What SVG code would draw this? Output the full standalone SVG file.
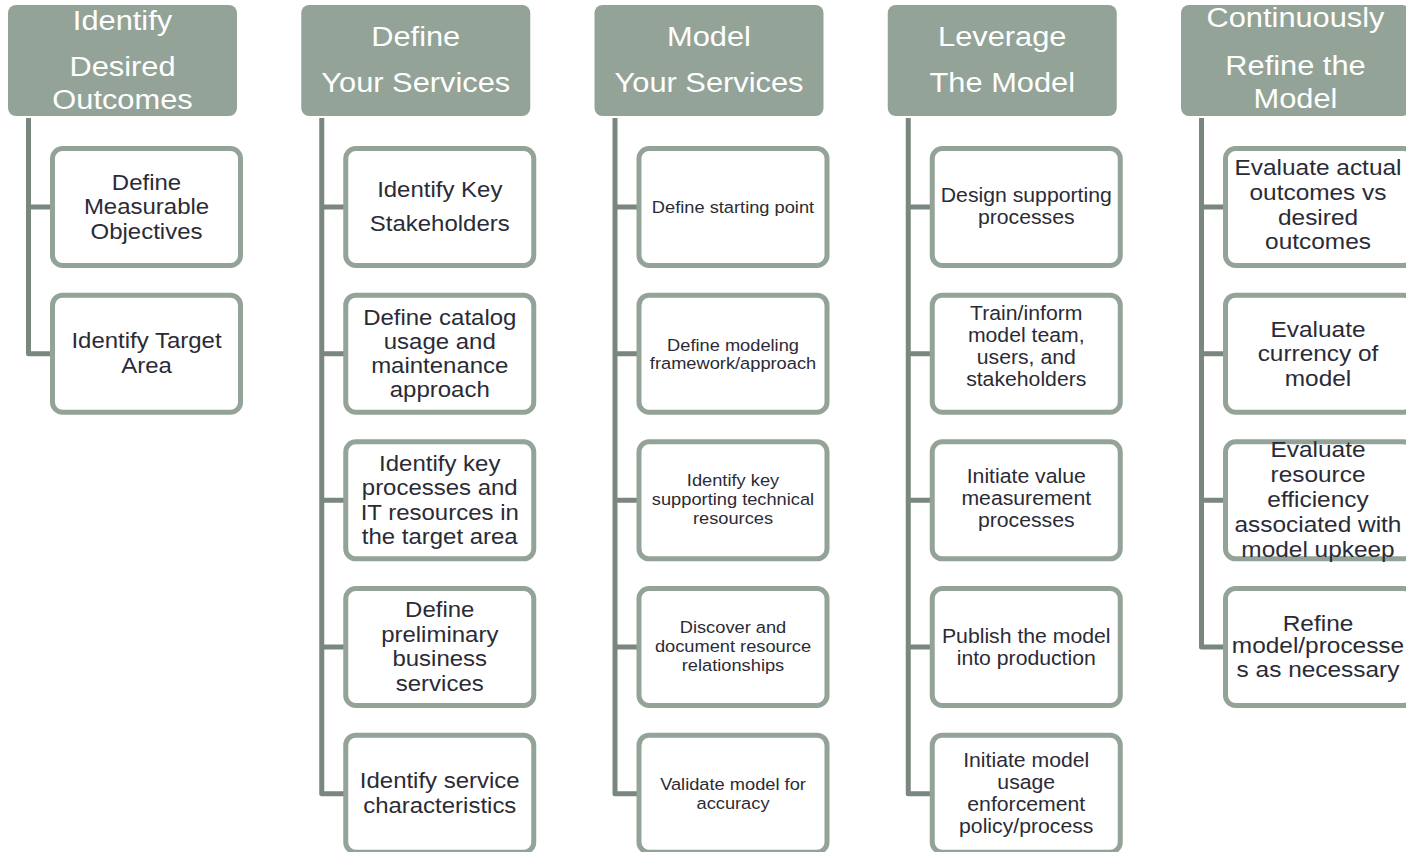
<svg xmlns="http://www.w3.org/2000/svg" width="1406" height="852" viewBox="0 0 1406 852">
<style>
.hd{fill:#94a397;}
.bx{fill:#ffffff;stroke:#94a397;stroke-width:5;}
.ln{fill:none;stroke:#7a877f;stroke-width:5;stroke-linejoin:round;}
text{font-family:'Liberation Sans',Arial,sans-serif;text-anchor:middle;}
.ht{fill:#ffffff;font-size:28px;}
.t{fill:#2b2b36;font-size:21.8px;}
.s{fill:#2b2b36;font-size:16.6px;}
.m{fill:#2b2b36;font-size:19.3px;}
.l{fill:#2b2b36;font-size:22.2px;}
</style>
<rect width="1406" height="852" fill="#ffffff"/>
<g id="connectors">
<path class="ln" d="M28.5 118V353.7H52.5M28.5 207H52.5"/>
<path class="ln" d="M321.75 118V793.7H345.75M321.75 207H345.75M321.75 353.7H345.75M321.75 500.3H345.75M321.75 647H345.75"/>
<path class="ln" d="M615 118V793.7H639M615 207H639M615 353.7H639M615 500.3H639M615 647H639"/>
<path class="ln" d="M908.25 118V793.7H932.25M908.25 207H932.25M908.25 353.7H932.25M908.25 500.3H932.25M908.25 647H932.25"/>
<path class="ln" d="M1201.5 118V647H1225.5M1201.5 207H1225.5M1201.5 353.7H1225.5M1201.5 500.3H1225.5"/>
</g>
<g id="h1"><rect class="hd" x="8" y="5" width="229" height="111" rx="8"/>
<text class="ht" transform="translate(122.5,0) scale(1.1,1)"><tspan x="0" y="30">Identify</tspan><tspan x="0" y="76">Desired</tspan><tspan x="0" y="109">Outcomes</tspan></text></g>
<g id="h2"><rect class="hd" x="301.25" y="5" width="229" height="111" rx="8"/>
<text class="ht" transform="translate(415.75,0) scale(1.1,1)"><tspan x="0" y="46">Define</tspan><tspan x="0" y="92">Your Services</tspan></text></g>
<g id="h3"><rect class="hd" x="594.5" y="5" width="229" height="111" rx="8"/>
<text class="ht" transform="translate(709,0) scale(1.1,1)"><tspan x="0" y="46">Model</tspan><tspan x="0" y="92">Your Services</tspan></text></g>
<g id="h4"><rect class="hd" x="887.75" y="5" width="229" height="111" rx="8"/>
<text class="ht" transform="translate(1002.25,0) scale(1.1,1)"><tspan x="0" y="46">Leverage</tspan><tspan x="0" y="92">The Model</tspan></text></g>
<g id="h5"><rect class="hd" x="1181" y="5" width="229" height="111" rx="8"/>
<text class="ht" transform="translate(1295.5,0) scale(1.1,1)"><tspan x="0" y="27">Continuously</tspan><tspan x="0" y="75">Refine the</tspan><tspan x="0" y="108">Model</tspan></text></g>

<g id="c1b1"><rect class="bx" x="52.5" y="148.5" width="188" height="117" rx="10"/>
<text class="t" transform="translate(146.5,0) scale(1.1,1)"><tspan x="0" y="190">Define</tspan><tspan x="0" y="214.5">Measurable</tspan><tspan x="0" y="239">Objectives</tspan></text></g>
<g id="c1b2"><rect class="bx" x="52.5" y="295.2" width="188" height="117" rx="10"/>
<text class="t" transform="translate(146.5,0) scale(1.1,1)"><tspan x="0" y="348">Identify Target</tspan><tspan x="0" y="373">Area</tspan></text></g>

<g id="c2b1"><rect class="bx" x="345.75" y="148.5" width="188" height="117" rx="10"/>
<text class="t" transform="translate(439.75,0) scale(1.1,1)"><tspan x="0" y="197">Identify Key</tspan><tspan x="0" y="231">Stakeholders</tspan></text></g>
<g id="c2b2"><rect class="bx" x="345.75" y="295.2" width="188" height="117" rx="10"/>
<text class="t" transform="translate(439.75,0) scale(1.1,1)"><tspan x="0" y="325">Define catalog</tspan><tspan x="0" y="349">usage and</tspan><tspan x="0" y="373">maintenance</tspan><tspan x="0" y="397">approach</tspan></text></g>
<g id="c2b3"><rect class="bx" x="345.75" y="441.8" width="188" height="117" rx="10"/>
<text class="t" transform="translate(439.75,0) scale(1.1,1)"><tspan x="0" y="471.5">Identify key</tspan><tspan x="0" y="495.5">processes and</tspan><tspan x="0" y="520">IT resources in</tspan><tspan x="0" y="544">the target area</tspan></text></g>
<g id="c2b4"><rect class="bx" x="345.75" y="588.5" width="188" height="117" rx="10"/>
<text class="t" transform="translate(439.75,0) scale(1.1,1)"><tspan x="0" y="617.5">Define</tspan><tspan x="0" y="642">preliminary</tspan><tspan x="0" y="666.5">business</tspan><tspan x="0" y="691">services</tspan></text></g>
<g id="c2b5"><rect class="bx" x="345.75" y="735.2" width="188" height="117" rx="10"/>
<text class="t" transform="translate(439.75,0) scale(1.1,1)"><tspan x="0" y="788">Identify service</tspan><tspan x="0" y="813">characteristics</tspan></text></g>

<g id="c3b1"><rect class="bx" x="639" y="148.5" width="188" height="117" rx="10"/>
<text class="s" transform="translate(733,0) scale(1.1,1)"><tspan x="0" y="213">Define starting point</tspan></text></g>
<g id="c3b2"><rect class="bx" x="639" y="295.2" width="188" height="117" rx="10"/>
<text class="s" transform="translate(733,0) scale(1.1,1)"><tspan x="0" y="350.7">Define modeling</tspan><tspan x="0" y="369.3">framework/approach</tspan></text></g>
<g id="c3b3"><rect class="bx" x="639" y="441.8" width="188" height="117" rx="10"/>
<text class="s" transform="translate(733,0) scale(1.1,1)"><tspan x="0" y="486">Identify key</tspan><tspan x="0" y="505">supporting technical</tspan><tspan x="0" y="524">resources</tspan></text></g>
<g id="c3b4"><rect class="bx" x="639" y="588.5" width="188" height="117" rx="10"/>
<text class="s" transform="translate(733,0) scale(1.1,1)"><tspan x="0" y="633.5">Discover and</tspan><tspan x="0" y="652.5">document resource</tspan><tspan x="0" y="671.5">relationships</tspan></text></g>
<g id="c3b5"><rect class="bx" x="639" y="735.2" width="188" height="117" rx="10"/>
<text class="s" transform="translate(733,0) scale(1.1,1)"><tspan x="0" y="790">Validate model for</tspan><tspan x="0" y="809">accuracy</tspan></text></g>

<g id="c4b1"><rect class="bx" x="932.25" y="148.5" width="188" height="117" rx="10"/>
<text class="m" transform="translate(1026.25,0) scale(1.1,1)"><tspan x="0" y="202">Design supporting</tspan><tspan x="0" y="224">processes</tspan></text></g>
<g id="c4b2"><rect class="bx" x="932.25" y="295.2" width="188" height="117" rx="10"/>
<text class="m" transform="translate(1026.25,0) scale(1.1,1)"><tspan x="0" y="320">Train/inform</tspan><tspan x="0" y="342">model team,</tspan><tspan x="0" y="364">users, and</tspan><tspan x="0" y="386">stakeholders</tspan></text></g>
<g id="c4b3"><rect class="bx" x="932.25" y="441.8" width="188" height="117" rx="10"/>
<text class="m" transform="translate(1026.25,0) scale(1.1,1)"><tspan x="0" y="483">Initiate value</tspan><tspan x="0" y="505">measurement</tspan><tspan x="0" y="527">processes</tspan></text></g>
<g id="c4b4"><rect class="bx" x="932.25" y="588.5" width="188" height="117" rx="10"/>
<text class="m" transform="translate(1026.25,0) scale(1.1,1)"><tspan x="0" y="643">Publish the model</tspan><tspan x="0" y="665">into production</tspan></text></g>
<g id="c4b5"><rect class="bx" x="932.25" y="735.2" width="188" height="117" rx="10"/>
<text class="m" transform="translate(1026.25,0) scale(1.1,1)"><tspan x="0" y="767">Initiate model</tspan><tspan x="0" y="789">usage</tspan><tspan x="0" y="811">enforcement</tspan><tspan x="0" y="833">policy/process</tspan></text></g>

<g id="c5b1"><rect class="bx" x="1225.5" y="148.5" width="188" height="117" rx="10"/>
<text class="l" transform="translate(1318,0) scale(1.1,1)"><tspan x="0" y="175">Evaluate actual</tspan><tspan x="0" y="200">outcomes vs</tspan><tspan x="0" y="225">desired</tspan><tspan x="0" y="249">outcomes</tspan></text></g>
<g id="c5b2"><rect class="bx" x="1225.5" y="295.2" width="188" height="117" rx="10"/>
<text class="l" transform="translate(1318,0) scale(1.1,1)"><tspan x="0" y="337">Evaluate</tspan><tspan x="0" y="361">currency of</tspan><tspan x="0" y="386">model</tspan></text></g>
<g id="c5b3"><rect class="bx" x="1225.5" y="441.8" width="188" height="117" rx="10"/>
<text class="l" transform="translate(1318,0) scale(1.1,1)"><tspan x="0" y="457">Evaluate</tspan><tspan x="0" y="482.5">resource</tspan><tspan x="0" y="507">efficiency</tspan><tspan x="0" y="532">associated with</tspan><tspan x="0" y="557">model upkeep</tspan></text></g>
<g id="c5b4"><rect class="bx" x="1225.5" y="588.5" width="188" height="117" rx="10"/>
<text class="l" transform="translate(1318,0) scale(1.1,1)"><tspan x="0" y="631">Refine</tspan><tspan x="0" y="653.5">model/processe</tspan><tspan x="0" y="677">s as necessary</tspan></text></g>
</svg>
